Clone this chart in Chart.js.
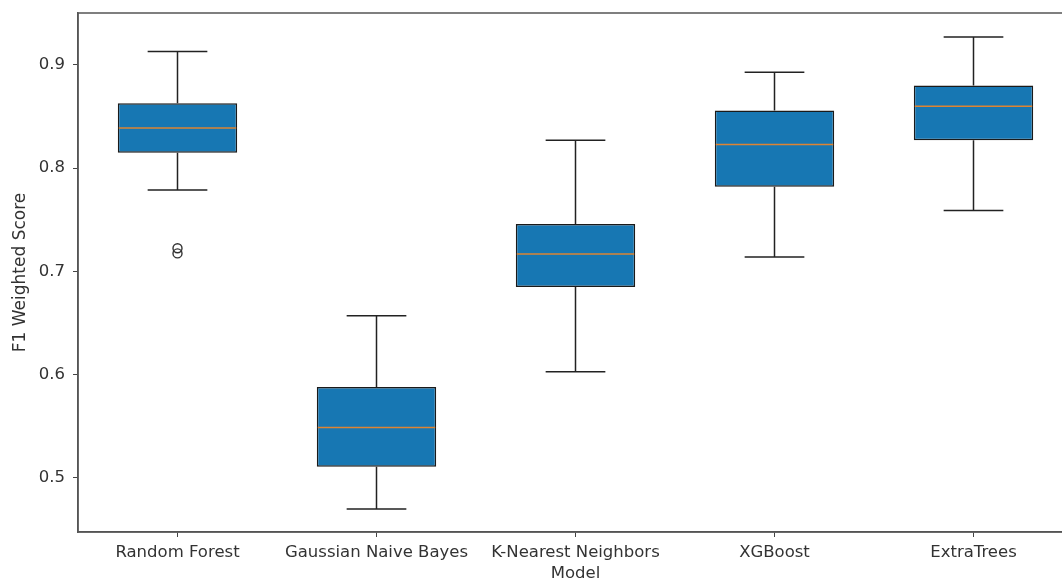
<!DOCTYPE html>
<html>
<head>
<meta charset="utf-8">
<script src="https://cdn.jsdelivr.net/npm/chart.js@4/dist/chart.umd.min.js"></script>
<style>
  html, body { margin: 0; padding: 0; overflow: hidden; background: #fff; }
  #wrap { position: absolute; left: 0; top: 0; width: 1080px; height: 590px; }
</style>
</head>
<body>
<div id="wrap"><canvas id="boxChart" width="1080" height="590"></canvas></div>
<script>

var models = ['Random Forest', 'Gaussian Naive Bayes', 'K-Nearest Neighbors', 'XGBoost', 'ExtraTrees'];

// box stats
var whisker_low  = [0.779, 0.470, 0.603, 0.714, 0.759];
var q1           = [0.815, 0.511, 0.685, 0.782, 0.827];
var median       = [0.839, 0.549, 0.717, 0.823, 0.860];
var q3           = [0.863, 0.588, 0.746, 0.856, 0.880];
var whisker_high = [0.913, 0.657, 0.827, 0.893, 0.927];
var outliers     = [[0.7225, 0.7175], [], [], [], []];

var y_ticks = [0.5, 0.6, 0.7, 0.8, 0.9];

var boxes = models.map(function(m, i){ return [q1[i], q3[i]]; });

// whiskers, caps, medians and fliers drawn on top of the floating bars
var boxExtras = {
  id: 'boxExtras',
  afterDatasetsDraw: function(chart){
    var ctx = chart.ctx;
    var x = chart.scales.x, y = chart.scales.y;
    var meta = chart.getDatasetMeta(0);
    ctx.save();
    for (var i = 0; i < models.length; i++){
      var bar = meta.data[i];
      var cx = x.getPixelForValue(i);
      var half = bar.width / 2;
      var capHalf = half / 2;

      ctx.strokeStyle = '#222';
      ctx.lineWidth = 1.5;
      ctx.beginPath();
      ctx.moveTo(cx, y.getPixelForValue(q3[i]));
      ctx.lineTo(cx, y.getPixelForValue(whisker_high[i]));
      ctx.moveTo(cx, y.getPixelForValue(q1[i]));
      ctx.lineTo(cx, y.getPixelForValue(whisker_low[i]));
      ctx.moveTo(cx - capHalf, y.getPixelForValue(whisker_high[i]));
      ctx.lineTo(cx + capHalf, y.getPixelForValue(whisker_high[i]));
      ctx.moveTo(cx - capHalf, y.getPixelForValue(whisker_low[i]));
      ctx.lineTo(cx + capHalf, y.getPixelForValue(whisker_low[i]));
      ctx.stroke();

      ctx.strokeStyle = '#dd8433';
      ctx.lineWidth = 1.5;
      ctx.beginPath();
      ctx.moveTo(cx - half + 1, y.getPixelForValue(median[i]));
      ctx.lineTo(cx + half - 1, y.getPixelForValue(median[i]));
      ctx.stroke();

      ctx.strokeStyle = '#333';
      ctx.lineWidth = 1.4;
      outliers[i].forEach(function(v){
        ctx.beginPath();
        ctx.arc(cx, y.getPixelForValue(v), 4.5, 0, Math.PI * 2);
        ctx.stroke();
      });
    }
    // frame (top spine; right spine falls off the page)
    var a = chart.chartArea;
    ctx.strokeStyle = '#555';
    ctx.lineWidth = 1.5;
    ctx.strokeRect(a.left, a.top, a.right - a.left, a.bottom - a.top);
    ctx.restore();
  }
};

var boxChart = document.getElementById('boxChart').getContext('2d');

new Chart(boxChart, {
  type: 'bar',
  data: {
    labels: models,
    datasets: [{
      data: boxes,
      backgroundColor: '#1777b3',
      borderColor: '#1a1a1a',
      borderWidth: 1.5,
      borderSkipped: false,
      categoryPercentage: 1.0,
      barPercentage: 0.6
    }]
  },
  options: {
    responsive: false,
    animation: false,
    layout: { padding: { top: 13, right: 7, left: 0, bottom: 0 } },
    plugins: {
      legend: { display: false },
      tooltip: { enabled: false }
    },
    scales: {
      x: {
        offset: true,
        grid: { drawOnChartArea: false, drawTicks: true, tickLength: 5, tickColor: '#444', offset: false },
        border: { display: true, color: '#555', width: 1.5 },
        ticks: { color: '#333', font: { family: 'DejaVu Sans', size: 16.5 }, padding: 6, maxRotation: 0, autoSkip: false },
        title: { display: true, text: 'Model', color: '#333', font: { family: 'DejaVu Sans', size: 16.5 }, padding: { top: 0, bottom: 6 } },
        afterFit: function(scale){ scale.height = 58; scale.paddingLeft = 0; scale.paddingRight = 0; }
      },
      y: {
        min: 0.4477,
        max: 0.9503,
        grid: { drawOnChartArea: false, drawTicks: true, tickLength: 5, tickColor: '#444' },
        border: { display: true, color: '#555', width: 1.5 },
        afterBuildTicks: function(scale){
          scale.ticks = y_ticks.map(function(v){ return { value: v }; });
        },
        ticks: {
          color: '#333',
          font: { family: 'DejaVu Sans', size: 16.5 },
          padding: 8,
          callback: function(v){ return Number(v).toFixed(1); }
        },
        title: { display: true, text: 'F1 Weighted Score', color: '#333', font: { family: 'DejaVu Sans', size: 17 }, padding: { top: 10, bottom: 0 } },
        afterFit: function(scale){ scale.width = 78; scale.paddingTop = 0; scale.paddingBottom = 0; }
      }
    }
  },
  plugins: [boxExtras]
});
</script>
</body>
</html>
